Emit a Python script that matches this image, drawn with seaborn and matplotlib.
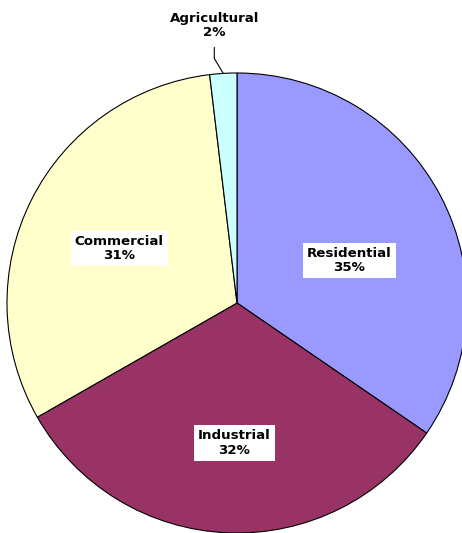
import matplotlib.pyplot as plt
import seaborn as sns
import numpy as np

sns.set_theme(style="white")
plt.rcParams["font.family"] = ["DejaVu Sans"]

# slice data, clockwise from 12 o'clock
sectors = ["Residential", "Industrial", "Commercial", "Agricultural"]
shares = [34.6, 32.2, 31.4, 1.9]
colors = ["#9999FF", "#993366", "#FFFFCC", "#CCFFFF"]

# label centre offsets in units of the radius (layout only)
label_off = [(0.489, 0.185), (-0.012, -0.609), (-0.513, 0.237), None]

W, H = 462, 533
fig = plt.figure(figsize=(W / 100, H / 100), dpi=100)
ax = fig.add_axes([0, 0, 1, 1])

cx, cy, R = 237, H - 303, 230
wedges, _ = ax.pie(
    shares, colors=colors, startangle=90, counterclock=False,
    center=(cx, cy), radius=R, frame=True,
    wedgeprops=dict(edgecolor="black", linewidth=0.8),
)
ax.set_xlim(0, W)
ax.set_ylim(0, H)
ax.set_aspect("equal")
ax.axis("off")

txt_kw = dict(ha="center", va="center", fontsize=9.6, fontweight="bold",
              color="black", linespacing=1.15)
box = dict(boxstyle="square,pad=0.3", facecolor="white", edgecolor="none")

total = sum(shares)
for w, name, val, off in zip(wedges, sectors, shares, label_off):
    label = f"{name}\n{val / total * 100:.0f}%"
    if off is None:
        # small slice: label above with a leader line
        mid = np.deg2rad((w.theta1 + w.theta2) / 2)
        ex, ey = cx + R * np.cos(mid), cy + R * np.sin(mid)
        lx = ex - 9
        ax.plot([ex, lx, lx], [ey, ey + 15, ey + 26], color="black", lw=0.8)
        ax.text(lx, H - 25.5, label, **txt_kw)
    else:
        ax.text(cx + off[0] * R, cy + off[1] * R, label, bbox=box, **txt_kw)

fig.savefig("out.png", dpi=100, facecolor="white")
